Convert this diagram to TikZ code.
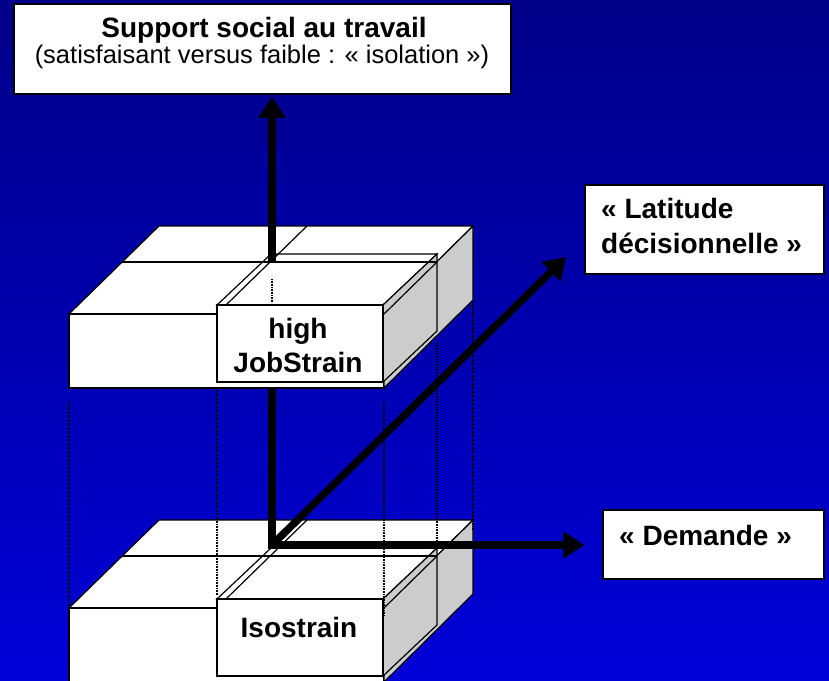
\documentclass[tikz,border=0pt]{standalone}
\usepackage{fontspec}
\setmainfont{Liberation Sans}
\usetikzlibrary{arrows.meta}

\definecolor{bgtop}{RGB}{0,0,136}
\definecolor{bgbottom}{RGB}{0,0,216}
\definecolor{sidegray}{RGB}{204,204,204}

\tikzset{
  whiteface/.style={draw=black, fill=white, line width=1.2pt},
  grayface/.style={draw=black, fill=sidegray, line width=1.2pt},
  gridline/.style={draw=black, line width=1.2pt},
  dropline/.style={draw=black, line width=1.6pt, dash pattern=on 1pt off 0.6pt},
  axis/.style={line width=7.5pt, -{Triangle[length=21pt,width=26pt]}},
  label box/.style={draw=black, fill=white, line width=1.5pt, inner sep=0pt},
  bold text/.style={font=\fontsize{28}{34}\selectfont\bfseries, inner sep=0pt},
  plain text/.style={font=\fontsize{25.5}{30}\selectfont, inner sep=0pt}
}

\begin{document}
\begin{tikzpicture}[x=1pt,y=-1pt]
    \useasboundingbox (0,0) rectangle (829,680);
    \shade[top color=bgtop, bottom color=bgbottom] (0,0) rectangle (829,680);

    % the two slabs, lower one first
    \foreach \lev in {608,314} {
        \filldraw[whiteface] (69,\lev) -- (159,\lev-88) -- (473,\lev-88) -- (384,\lev) -- cycle;
        \filldraw[whiteface] (69,\lev) rectangle (384,\lev+74);
        \filldraw[grayface] (384,\lev) -- (473,\lev-88) -- (473,\lev-14) -- (384,\lev+74) -- cycle;
        % raised block
        \filldraw[whiteface] (217,\lev-9) -- (271,\lev-60) -- (437,\lev-60) -- (383,\lev-9) -- cycle;
        \filldraw[grayface] (383,\lev-9) -- (437,\lev-60) -- (437,\lev+17) -- (383,\lev+68) -- cycle;
        \filldraw[whiteface] (217,\lev-9) rectangle (383,\lev+68);
        % grid of the top face
        \draw[gridline] (122,\lev-52) -- (437,\lev-52);
        \draw[gridline] (307,\lev-88) -- (226,\lev-9);
        \draw[gridline] (437,\lev-52) -- (384,\lev);
    }

    % dotted lines between the slabs
    \draw[dropline] (69,402) -- (69,653);
    \draw[dropline] (217,388) -- (217,595);
    \draw[dropline] (384,402) -- (384,615);
    \draw[dropline] (437,343) -- (437,540);
    \draw[dropline] (473,302) -- (473,530);
    \draw[dropline] (272,279) -- (272,303);

    % labels on the blocks
    \node[bold text, anchor=base] (high) at (298,338) {high};
    \node[bold text, anchor=base] (jobstrain) at (298,372) {JobStrain};
    \node[bold text, anchor=base] (isostrain) at (299,637) {Isostrain};

    % label boxes
    \node[label box, minimum width=497pt, minimum height=90pt] (support) at (262.5,49) {};
    \node[bold text, anchor=base] (support title) at (264,37) {Support social au travail};
    \node[plain text, anchor=base] (support sub) at (262,63) {(satisfaisant versus faible : « isolation »)};

    \node[label box, minimum width=239pt, minimum height=89pt] (latitude) at (704.5,229.5) {};
    \node[bold text, anchor=base west] (latitude a) at (601,218) {« Latitude};
    \node[bold text, anchor=base west] (latitude b) at (601,253) {décisionnelle »};

    \node[label box, minimum width=221pt, minimum height=69pt] (demande) at (713.5,544.5) {};
    \node[bold text, anchor=base west] (demande text) at (619,545) {« Demande »};

    % axes
    \coordinate (origin) at (272,545);
    \coordinate (sup low) at (272,389);
    \coordinate (sup high) at (272,262);
    \coordinate (lat tip) at (566,257);

    \draw[axis, shorten >=18pt] (sup low) -- (origin) -- (origin -| demande.west);
    \draw[axis, shorten >=2pt] (sup high) -- (sup high |- support.south);
    \draw[axis] (origin) -- (lat tip);
\end{tikzpicture}
\end{document}
